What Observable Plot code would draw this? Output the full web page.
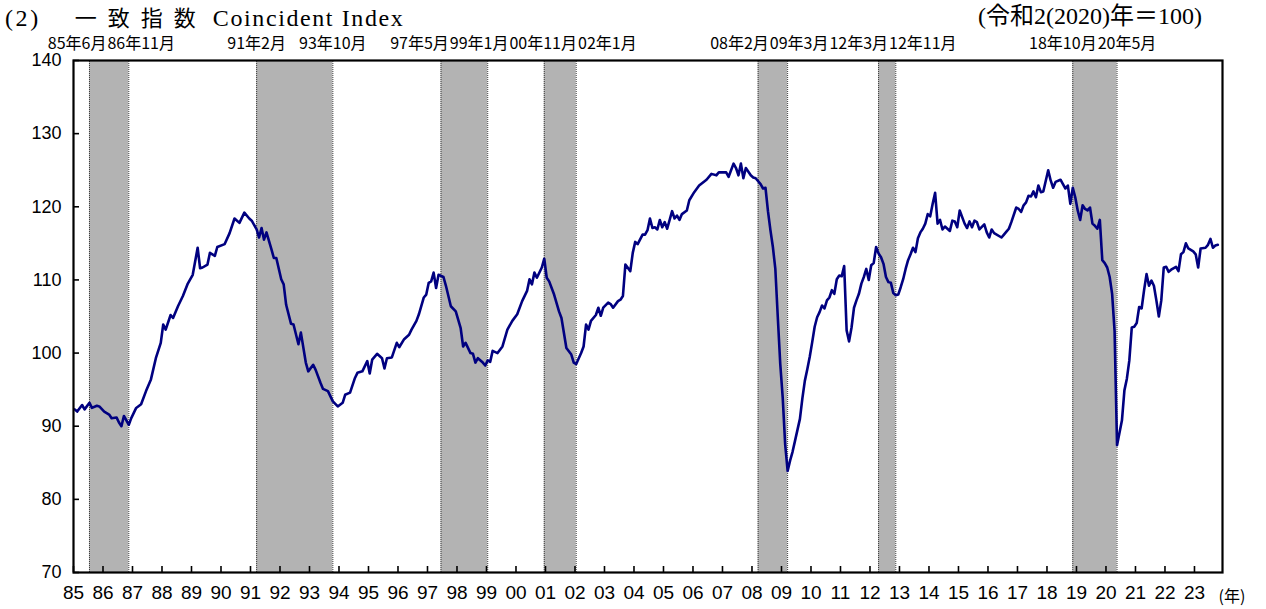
<!DOCTYPE html>
<html>
<head>
<meta charset="utf-8">
<script src="https://cdn.jsdelivr.net/npm/d3@7"></script>
<script src="https://cdn.jsdelivr.net/npm/@observablehq/plot@0.6"></script>
<style>
  html, body { margin: 0; padding: 0; background: #fff; }
  #wrap { position: relative; width: 1266px; height: 609px; background: #fff; overflow: hidden; }
  .hdr { position: absolute; top: 5px; line-height: 22px; height: 22px; font-size: 24px; font-family: "Liberation Serif", "Noto Sans CJK JP", serif; white-space: pre; color: #000; }
  #title { left: 5px; }
  #title .a { letter-spacing: 2.6px; }
  #title .k { margin-left: 34px; letter-spacing: 11px; font-family: "Noto Sans CJK JP", sans-serif; font-size: 22px; }
  #title .lat { margin-left: 6px; letter-spacing: 1.6px; }
  #unit { left: 978px; }
  #chart { position: absolute; left: 0; top: 32px; }
</style>
</head>
<body>
<div id="wrap">
  <div id="title" class="hdr"><span class="a">(2)</span><span class="k">一致指数</span><span class="lat">Coincident Index</span></div>
  <div id="unit" class="hdr">(令和2(2020)年＝100)</div>
  <div id="chart"></div>
</div>
<script>
// ---- data ----
const months = [
  "1985-01","1985-02","1985-04","1985-05","1985-07","1985-08","1985-10","1985-11",
  "1986-01","1986-03","1986-04","1986-06","1986-07","1986-08","1986-09","1986-11","1986-12",
  "1987-02","1987-04","1987-06","1987-08","1987-10","1987-12",
  "1988-01","1988-02","1988-04","1988-05","1988-07","1988-09","1988-11",
  "1989-01","1989-03","1989-04","1989-05","1989-07","1989-08","1989-10","1989-11",
  "1990-02","1990-04","1990-06","1990-08","1990-10","1990-12",
  "1991-01","1991-03","1991-04","1991-05","1991-06","1991-07","1991-09","1991-10","1991-11",
  "1992-01","1992-02","1992-03","1992-05","1992-06","1992-08","1992-09","1992-11","1992-12",
  "1993-02","1993-03","1993-05","1993-06","1993-08","1993-10","1993-12",
  "1994-02","1994-03","1994-05","1994-07","1994-08","1994-10","1994-12",
  "1995-01","1995-02","1995-04","1995-06","1995-07","1995-08","1995-10","1995-12",
  "1996-01","1996-03","1996-05","1996-06","1996-08","1996-09","1996-11","1996-12",
  "1997-01","1997-02","1997-03","1997-04","1997-05","1997-07","1997-08","1997-10","1997-12",
  "1998-02","1998-03","1998-04","1998-06","1998-07","1998-08","1998-09","1998-11","1998-12",
  "1999-01","1999-02","1999-03","1999-05","1999-07","1999-09","1999-11",
  "2000-01","2000-03","2000-05","2000-06","2000-07","2000-08","2000-09","2000-11","2000-12",
  "2001-01","2001-02","2001-04","2001-06","2001-07","2001-09","2001-11","2001-12",
  "2002-01","2002-03","2002-04","2002-05","2002-06","2002-07","2002-09","2002-10","2002-11","2002-12",
  "2003-02","2003-03","2003-04","2003-06","2003-07","2003-08","2003-09","2003-11","2003-12",
  "2004-01","2004-02","2004-04","2004-05","2004-06","2004-07","2004-08","2004-09","2004-10","2004-11","2004-12",
  "2005-01","2005-02","2005-04","2005-05","2005-06","2005-07","2005-08","2005-10","2005-11",
  "2006-01","2006-03","2006-06","2006-08","2006-10","2006-11",
  "2007-02","2007-03","2007-05","2007-06","2007-07","2007-08","2007-09","2007-10","2007-12",
  "2008-01","2008-02","2008-04","2008-05","2008-06","2008-07","2008-08","2008-09","2008-10","2008-11","2008-12",
  "2009-01","2009-02","2009-03","2009-04","2009-05","2009-06","2009-07","2009-08","2009-09","2009-10","2009-11","2009-12",
  "2010-01","2010-02","2010-03","2010-04","2010-05","2010-06","2010-07","2010-08","2010-09","2010-10","2010-11","2010-12",
  "2011-01","2011-02","2011-03","2011-04","2011-05","2011-06","2011-07","2011-08","2011-09","2011-10","2011-11","2011-12",
  "2012-01","2012-02","2012-03","2012-04","2012-05","2012-06","2012-07","2012-08","2012-09","2012-10","2012-11","2012-12",
  "2013-01","2013-02","2013-03","2013-04","2013-05","2013-06","2013-07","2013-08","2013-09","2013-10","2013-11","2013-12",
  "2014-01","2014-02","2014-03","2014-04","2014-05","2014-06","2014-07","2014-09","2014-10","2014-11","2014-12",
  "2015-01","2015-03","2015-04","2015-05","2015-06","2015-07","2015-08","2015-09","2015-11","2015-12",
  "2016-01","2016-02","2016-03","2016-06","2016-07","2016-08","2016-09","2016-10","2016-12",
  "2017-01","2017-02","2017-03","2017-04","2017-05","2017-06","2017-07","2017-08","2017-09","2017-10","2017-11",
  "2018-01","2018-02","2018-03","2018-04","2018-06","2018-07","2018-08","2018-09","2018-10","2018-11","2018-12",
  "2019-01","2019-02","2019-03","2019-04","2019-05","2019-06","2019-07","2019-08","2019-09","2019-10","2019-11","2019-12",
  "2020-01","2020-02","2020-03","2020-04","2020-05","2020-07","2020-08","2020-09","2020-10","2020-11","2020-12",
  "2021-01","2021-02","2021-03","2021-04","2021-05","2021-06","2021-07","2021-08","2021-09","2021-10","2021-11","2021-12",
  "2022-01","2022-02","2022-03","2022-05","2022-06","2022-07","2022-08","2022-09","2022-10","2022-12",
  "2023-01","2023-02","2023-03","2023-05","2023-06","2023-07","2023-08","2023-09","2023-10"
];
const ci = [
  92.3,92.0,92.9,92.3,93.2,92.5,92.8,92.7,
  92.0,91.6,91.1,91.2,90.5,90.0,91.4,90.2,91.1,
  92.5,93.0,94.8,96.4,99.3,101.4,
  103.9,103.2,105.2,104.8,106.4,107.8,109.5,
  110.7,114.4,111.6,111.7,112.1,113.7,113.3,114.5,
  114.9,116.4,118.4,117.8,119.2,118.4,
  118.1,116.9,115.8,117.1,115.5,116.5,114.2,113.0,113.0,
  110.1,109.4,106.6,104.0,103.9,101.2,102.8,98.7,97.5,
  98.4,97.7,95.9,95.1,94.8,93.4,92.7,
  93.2,94.3,94.6,96.6,97.3,97.5,98.9,
  97.2,99.1,99.9,99.3,97.9,99.3,99.4,101.4,
  100.8,101.9,102.5,103.2,104.4,105.3,107.6,108.0,
  109.6,109.8,111.0,108.9,110.7,110.4,109.2,106.4,105.7,
  103.4,100.9,101.4,100.0,99.9,98.7,99.3,98.7,98.3,
  99.0,98.8,100.3,100.0,100.9,103.2,104.4,
  105.3,107.1,108.5,110.1,109.4,111.0,110.3,111.7,112.9,
  110.3,109.8,108.0,105.7,104.8,100.7,99.8,98.7,
  98.5,100.0,100.9,103.9,103.2,104.4,105.2,106.2,105.1,106.2,
  106.9,106.7,106.2,107.1,107.3,107.8,112.1,111.2,113.7,
  115.2,114.9,116.2,116.2,116.8,118.4,117.1,117.2,116.9,118.2,117.2,
  117.9,117.0,119.4,118.4,118.8,118.2,119.0,119.5,120.9,
  122.0,122.9,123.7,124.5,124.3,124.7,
  124.7,124.1,125.9,125.3,124.3,125.9,123.9,125.3,124.3,
  124.0,123.9,123.1,122.5,122.6,119.4,116.8,114.5,111.5,104.9,98.5,
  93.9,87.5,83.9,85.3,86.5,88.0,89.5,91.0,93.8,96.2,97.8,99.5,
  101.5,103.6,104.9,105.6,106.5,106.1,107.2,107.6,108.6,108.1,110.1,110.6,
  110.5,111.9,103.1,101.6,103.5,106.2,107.2,108.1,109.5,110.4,111.5,110.0,
  112.0,112.3,114.5,113.6,113.1,112.2,110.4,109.7,109.6,108.2,107.9,108.0,
  109.0,110.1,111.5,112.7,113.5,114.4,113.8,115.7,116.5,117.0,117.7,119.0,
  118.7,120.4,121.9,117.7,118.2,116.9,117.3,116.7,118.1,118.0,117.2,
  119.5,117.7,117.1,118.0,117.2,118.1,117.9,116.9,117.6,116.5,
  115.8,116.9,116.4,115.8,116.2,116.6,117.0,117.9,119.9,
  119.7,119.3,120.2,120.6,121.5,121.4,122.1,121.3,122.9,122.0,122.1,
  125.0,123.6,122.6,123.4,123.7,123.1,122.5,122.9,120.4,122.6,121.3,
  119.5,118.2,120.2,119.7,119.5,119.9,117.7,117.4,117.0,118.2,112.7,112.3,
  111.7,110.4,108.1,103.0,87.4,90.8,94.9,96.5,99.0,103.5,103.6,
  104.1,106.3,106.1,108.6,110.8,109.2,109.9,109.2,107.2,105.0,107.2,111.7,
  111.8,111.1,111.4,111.8,111.2,113.5,113.8,115.0,114.3,113.9,
  113.5,111.7,114.3,114.4,114.8,115.6,114.4,114.7,114.8
];
// business-cycle peaks and troughs (shaded recessions)
const peaks   = ["1985-06","1991-02","1997-05","2000-11","2008-02","2012-03","2018-10"];
const troughs = ["1986-11","1993-10","1999-01","2002-01","2009-03","2012-11","2020-05"];
const yearTicks = d3.range(1985, 2024);
const yTicks = [70, 80, 90, 100, 110, 120, 130, 140];

// ---- helpers ----
const ym = s => s.split("-").map(Number);
const midMonth = s => { const [y, m] = ym(s); return y + (m - 0.5) / 12; };
const jpLabel = s => { const [y, m] = ym(s); return `${String(y % 100).padStart(2, "0")}年${m}月`; };

const data = months.map((m, i) => ({t: midMonth(m), v: ci[i]}));
// shading runs from the month after the peak through the trough month
const rec = peaks.map((p, i) => ({x1: midMonth(p) + 1 / 12, x2: midMonth(troughs[i])}));
const edges = rec.flatMap(r => [r.x1, r.x2]);

// ---- layout ----
const W = 1266, H = 577, mL = 73, mR = 44, mT = 28, mB = 37;
const xDomain = [1985, 2023.95], yDomain = [70, 140];
const plotW = W - mL - mR, plotH = H - mT - mB;
const sx = d3.scaleLinear(xDomain, [mL, W - mR]);

// peak / trough labels: centred on their lines, then pushed apart where they collide
const labelSize = 16;
const ctx = document.createElement("canvas").getContext("2d");
ctx.font = `${labelSize}px "Noto Sans CJK JP", sans-serif`;
const items = [];
peaks.forEach((p, i) => {
  items.push({text: jpLabel(p), cx: sx(rec[i].x1)});
  items.push({text: jpLabel(troughs[i]), cx: sx(rec[i].x2)});
});
items.forEach(d => d.w = ctx.measureText(d.text).width);
for (let it = 0; it < 300; it++) {
  for (let i = 0; i < items.length - 1; i++) {
    const a = items[i], b = items[i + 1];
    const ov = (a.cx + a.w / 2 + 1) - (b.cx - b.w / 2);
    if (ov > 0) { a.cx -= ov / 2; b.cx += ov / 2; }
  }
}
const labels = items.map(d => ({text: d.text, x: sx.invert(d.cx)}));

const chart = Plot.plot({
  width: W, height: H,
  marginLeft: mL, marginRight: mR, marginTop: mT, marginBottom: mB,
  x: {domain: xDomain, axis: null},
  y: {domain: yDomain, axis: null},
  style: {background: "white", overflow: "visible"},
  marks: [
    Plot.rect(rec, {x1: "x1", x2: "x2", y1: 70, y2: 140, fill: "#b3b3b3"}),
    Plot.ruleX(edges, {x: d => d, y1: 70, y2: 140, stroke: "#3a3a3a", strokeWidth: 1, strokeDasharray: "1,1"}),
    Plot.lineY(data, {x: "t", y: "v", stroke: "#000080", strokeWidth: 2.6, strokeLinejoin: "round"}),
    Plot.tickX(yearTicks, {x: d => d, insetTop: plotH - 6, stroke: "#000", strokeWidth: 1.6}),
    Plot.tickY(yTicks, {y: d => d, insetRight: plotW - 6, stroke: "#000", strokeWidth: 1.6}),
    Plot.frame({stroke: "#000", strokeWidth: 2.2}),
    Plot.axisX({ticks: yearTicks, tickSize: 0, tickPadding: 13, label: null,
      tickFormat: d => String(d % 100).padStart(2, "0"),
      fontSize: 19, fontFamily: "'Liberation Sans Narrow', 'Arial Narrow', 'Liberation Sans', sans-serif", fill: "#000"}),
    Plot.axisY({ticks: yTicks, tickSize: 0, tickPadding: 12, label: null,
      fontSize: 18, fontFamily: "'Liberation Sans', Arial, sans-serif", fill: "#000"}),
    Plot.text(labels, {x: "x", text: "text", frameAnchor: "top", dy: -23,
      fontSize: labelSize, fontFamily: "'Noto Sans CJK JP', sans-serif", fill: "#000"}),
    Plot.text(["(年)"], {frameAnchor: "bottom-right", textAnchor: "start", dx: -4, dy: 29,
      fontSize: 16, fontFamily: "'Noto Sans CJK JP', sans-serif", fill: "#000"})
  ]
});
document.getElementById("chart").appendChild(chart);
</script>
</body>
</html>
